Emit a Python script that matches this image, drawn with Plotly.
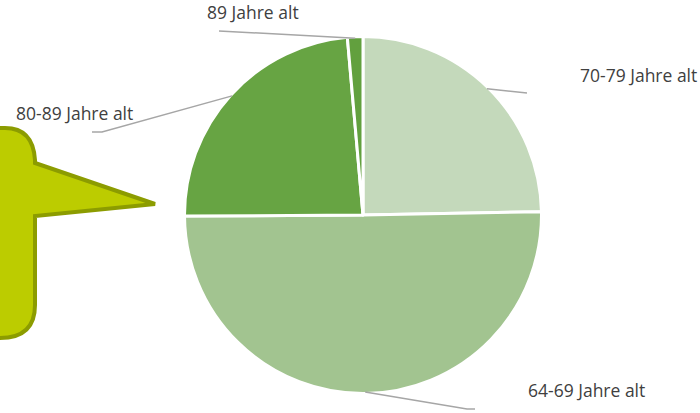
import math
import plotly.graph_objects as go

# ---- data ----
labels = ["70-79 Jahre alt", "64-69 Jahre alt", "80-89 Jahre alt", "89 Jahre alt"]
values = [24.7, 50.2, 23.7, 1.4]
colors = ["#c4d9bb", "#a2c490", "#67a443", "#62a03e"]

W, H = 700, 413
CX, CY, R = 363, 215, 177  # pie geometry in pixels
RD = R + 1.5               # domain half-size (plotly trims slightly)

# label anchor positions (pixels) and leader elbows
label_pos = {
    "70-79 Jahre alt": (578, 75, "left"),
    "64-69 Jahre alt": (526, 390, "left"),
    "80-89 Jahre alt": (14, 113, "left"),
    "89 Jahre alt": (205, 12, "left"),
}
leader_pts = {
    "70-79 Jahre alt": [(527, 93)],
    "64-69 Jahre alt": [(467, 409), (475, 409)],
    "80-89 Jahre alt": [(102, 132), (92, 132)],
    "89 Jahre alt": [(219, 31)],
}

fig = go.Figure()
fig.add_trace(go.Pie(
    labels=labels, values=values, sort=False, direction="clockwise", rotation=0,
    marker=dict(colors=colors, line=dict(color="white", width=3)),
    textinfo="none", hoverinfo="label+percent", showlegend=False,
    domain=dict(x=[(CX - RD) / W, (CX + RD) / W], y=[(H - CY - RD) / H, (H - CY + RD) / H]),
))

# hidden pixel axes for decorations
fig.update_xaxes(range=[0, W], visible=False, fixedrange=True)
fig.update_yaxes(range=[H, 0], visible=False, fixedrange=True)

shapes = []
# leader lines from slice mid-angle edge points
total = sum(values)
cum = 0
for lab, v in zip(labels, values):
    mid = (cum + v / 2) / total * 2 * math.pi
    cum += v
    ex, ey = CX + R * math.sin(mid), CY - R * math.cos(mid)
    pts = [(ex, ey)] + leader_pts[lab]
    path = "M " + " L ".join(f"{x:.1f},{y:.1f}" for x, y in pts)
    shapes.append(dict(type="path", xref="x", yref="y", path=path,
                       line=dict(color="#a6a6a6", width=1.5)))
    lx, ly, anc = label_pos[lab]
    fig.add_annotation(x=lx, y=ly, xref="x", yref="y", text=lab, showarrow=False,
                       xanchor=anc, yanchor="middle",
                       font=dict(family="Open Sans, Noto Sans, sans-serif", size=17.5, color="#404040"))

# callout shape on the left
callout = ("M -20,128 L 5,128 Q 33,128 35,160 L 35,163 L 155,204 L 35,216 "
           "L 35,305 Q 35,338 0,338 L -20,338 Z")
shapes.append(dict(type="path", xref="x", yref="y", path=callout,
                   fillcolor="#bccc00", line=dict(color="#8c9c00", width=4), layer="below"))

fig.update_layout(
    width=W, height=H, margin=dict(l=0, r=0, t=0, b=0),
    paper_bgcolor="white", plot_bgcolor="white", shapes=shapes,
)
fig.write_html("out.html", config={"displayModeBar": False},
               post_script="document.body.style.margin='0';")
